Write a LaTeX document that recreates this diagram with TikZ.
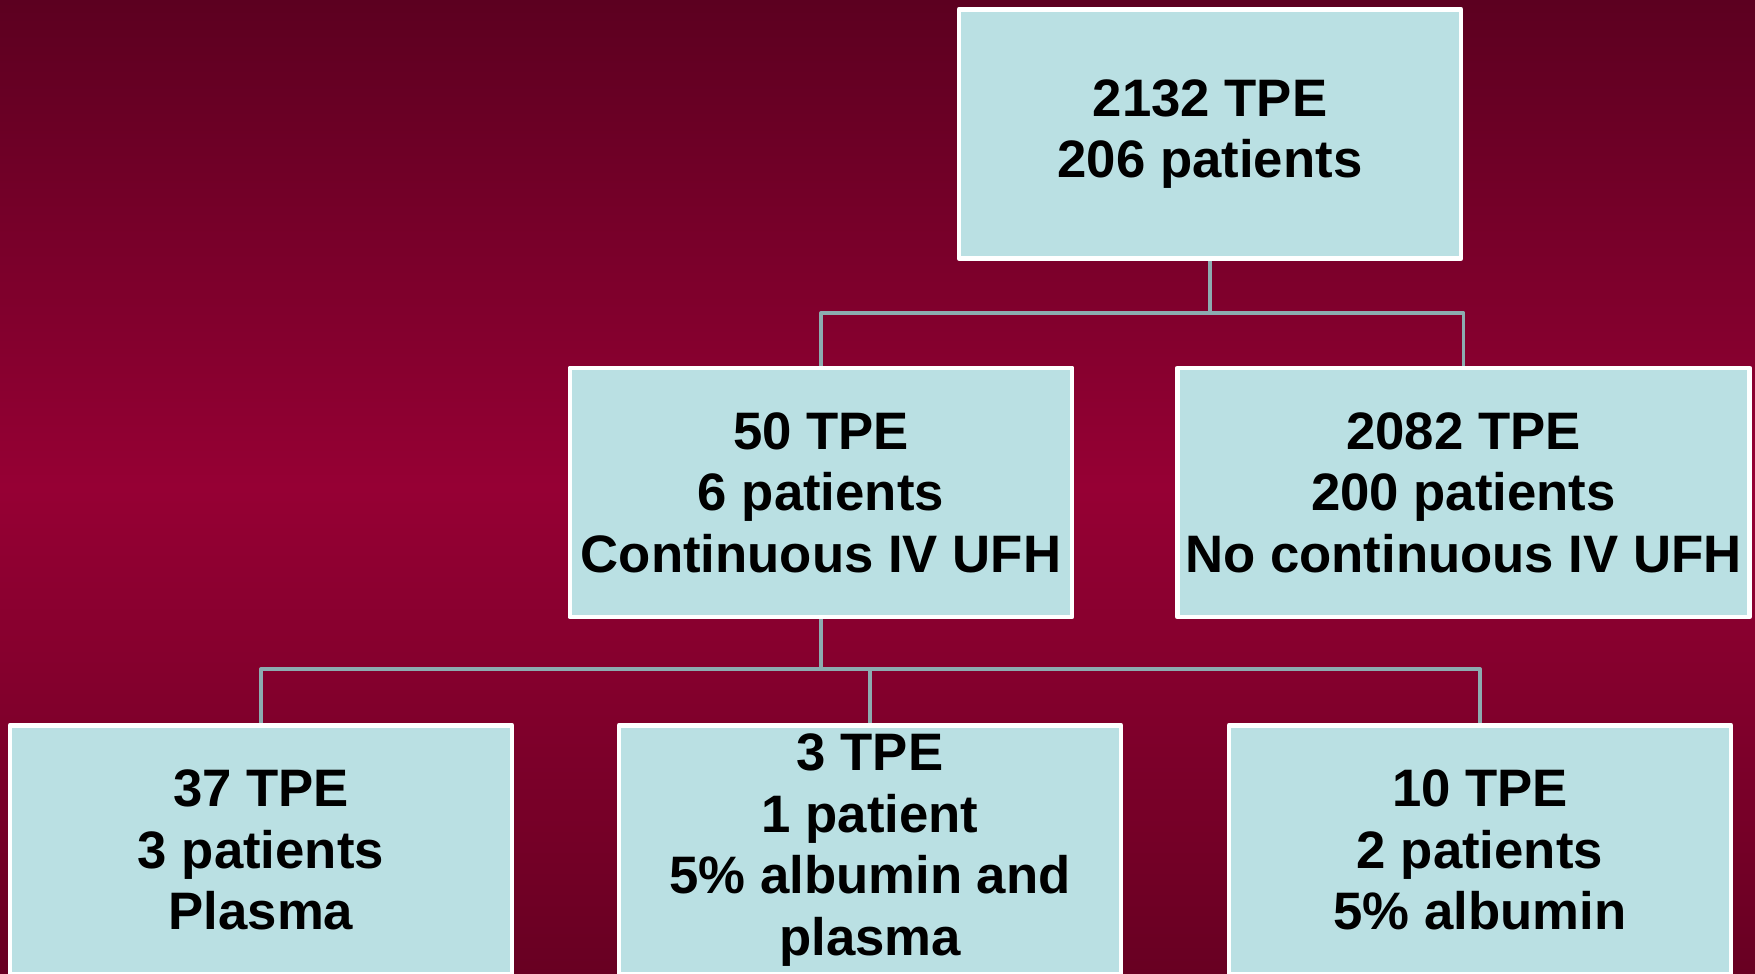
\documentclass[tikz,border=0pt]{standalone}
\usepackage{fontspec}
\setmainfont{Liberation Sans}
\definecolor{bgtop}{RGB}{92,0,32}
\definecolor{bgmid}{RGB}{150,0,52}
\definecolor{bgbot}{RGB}{104,0,34}
\definecolor{boxfill}{RGB}{186,224,227}
\definecolor{linkcol}{RGB}{140,172,176}
\begin{document}
\begin{tikzpicture}[line join=round,
	box/.style={draw=white,line width=1.4pt,fill=boxfill,align=center,
		minimum width=5.02cm,minimum height=2.49cm,inner sep=0pt,
		font=\fontsize{15}{17.5}\selectfont\bfseries},
	link/.style={draw=linkcol,line width=1.1pt}]
	\useasboundingbox (0,0) rectangle (17.55,9.74);
	\clip (0,0) rectangle (17.55,9.74);
	\shade[top color=bgtop,bottom color=bgbot,middle color=bgmid] (0,0) rectangle (17.55,9.74);
	% boxes
	\node[box] (top) at (12.10,8.40) {2132 TPE\\206 patients};
	\node[box] (ml) at (8.21,4.815) {50 TPE\\6 patients\\Continuous IV UFH};
	\node[box,minimum width=5.72cm] (mr) at (14.635,4.815) {2082 TPE\\200 patients\\No continuous IV UFH};
	\node[box] (bl) at (2.61,1.24) {37 TPE\\3 patients\\Plasma};
	\node[box] (bm) at (8.70,1.24) {3 TPE\\1 patient\\5\% albumin and\\plasma};
	\node[box] (br) at (14.80,1.24) {10 TPE\\2 patients\\5\% albumin};
	% connectors
	\coordinate (j1) at (12.10,6.61);
	\coordinate (j2) at (8.21,3.05);
	\draw[link] (top.south)--(j1) (j1)-|(ml.north) (j1)-|(mr.north);
	\draw[link] (ml.south)--(j2) (j2)-|(bl.north) (j2)-|(bm.north) (j2)-|(br.north);
\end{tikzpicture}
\end{document}
